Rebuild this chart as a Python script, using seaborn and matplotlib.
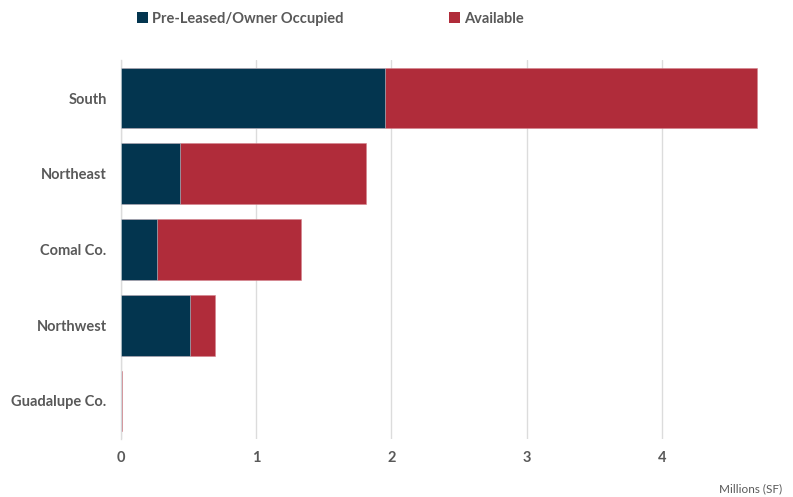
import matplotlib
matplotlib.use("Agg")
import matplotlib.pyplot as plt
import pandas as pd
import seaborn as sns

regions = ["South", "Northeast", "Comal Co.", "Northwest", "Guadalupe Co."]
preleased = [1.95, 0.44, 0.27, 0.51, 0.0]
available = [2.75, 1.37, 1.06, 0.19, 0.012]

navy = "#03354f"
red = "#b02c3a"
grey = "#595959"

df = pd.DataFrame({"region": regions, "pre": preleased, "avail": available})
df["total"] = df["pre"] + df["avail"]

sns.set_theme(style="white")
plt.rcParams['font.family'] = ['Lato', 'DejaVu Sans']

fig = plt.figure(figsize=(7.93, 4.97), dpi=100)
ax = fig.add_axes([0.152, 0.117, 0.82, 0.762])

# stacked: total in red, pre-leased drawn over it
sns.barplot(data=df, y="region", x="total", color=red, orient="h", width=0.8,
            saturation=1, edgecolor="#d4838c", linewidth=0.4, ax=ax,
            label="Available", zorder=2)
sns.barplot(data=df, y="region", x="pre", color=navy, orient="h", width=0.8,
            saturation=1, edgecolor="#c8d4dc", linewidth=0.4, ax=ax,
            label="Pre-Leased/Owner Occupied", zorder=3)
handles, labels = ax.get_legend_handles_labels()
if ax.get_legend() is not None:
    ax.get_legend().remove()

ax.set_xlim(0, 4.8)
ax.set_xticks([0, 1, 2, 3, 4])
ax.xaxis.grid(True, color="#dcdcdc", linewidth=1)
ax.set_axisbelow(True)
for s in ["top", "right", "bottom"]:
    ax.spines[s].set_visible(False)
ax.spines["left"].set_color("#dcdcdc")
ax.spines["left"].set_linewidth(1)
ax.tick_params(axis="both", length=0, labelsize=10.5, labelcolor=grey)
ax.tick_params(axis="x", pad=9)
ax.tick_params(axis="y", pad=10)
for t in ax.get_xticklabels() + ax.get_yticklabels():
    t.set_fontweight("bold")
ax.set_xlabel("")
ax.set_ylabel("")

order = [labels.index("Pre-Leased/Owner Occupied"), labels.index("Available")]
leg = fig.legend([handles[i] for i in order], [labels[i] for i in order],
                 loc="center left", bbox_to_anchor=(0.156, 0.962), ncol=2,
                 frameon=False, handlelength=0.75, handleheight=0.75,
                 handletextpad=0.3, columnspacing=7.2,
                 prop={"weight": "bold", "size": 10.5})
for t in leg.get_texts():
    t.set_color(grey)
for h in leg.legend_handles:
    h.set_edgecolor("none")

fig.text(0.986, 0.006, "Millions (SF)", ha="right", va="bottom", fontsize=8.5, color=grey)

fig.savefig("out.png", dpi=100)
